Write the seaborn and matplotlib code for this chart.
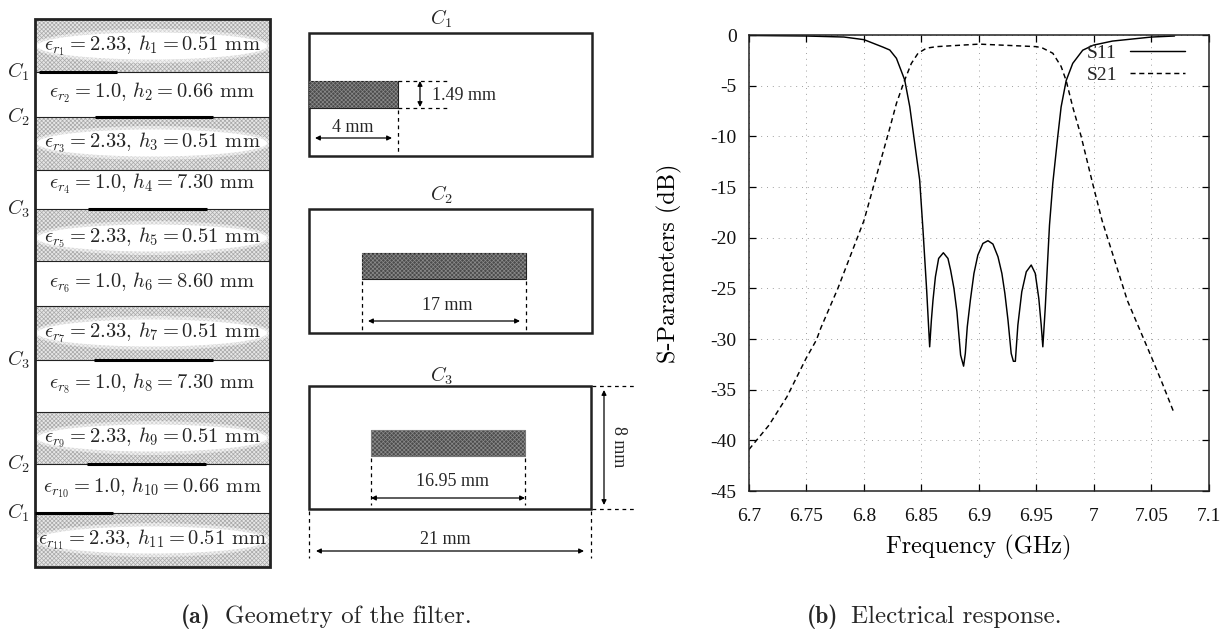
import matplotlib
matplotlib.use("Agg")
import matplotlib.pyplot as plt
import pandas as pd
import seaborn as sns
from matplotlib.patches import Ellipse, Rectangle

# Filter response
s11_freq = [6.70, 6.75, 6.7826, 6.80, 6.8166, 6.8224, 6.8282, 6.8354, 6.8398, 6.8441, 6.8484, 6.8513, 6.8545,
            6.8571, 6.8586, 6.86, 6.8621, 6.8649, 6.869, 6.873, 6.8753, 6.8782, 6.8808, 6.884, 6.8866,
            6.8881, 6.8898, 6.8925, 6.8956, 6.899, 6.9034, 6.9078, 6.9121, 6.9165, 6.9199, 6.9225, 6.9252,
            6.928, 6.9299, 6.9316, 6.9338, 6.9372, 6.9411, 6.9454, 6.9489, 6.952, 6.9541, 6.9555, 6.9576,
            6.9598, 6.9613, 6.9642, 6.9685, 6.9714, 6.9758, 6.9815, 6.9902, 6.9995, 7.016, 7.05, 7.07]
s11_db = [-0.05, -0.1, -0.2, -0.46, -1.2, -1.48, -2.3, -4.44, -7.08, -10.69, -14.3, -19.25, -25.2,
          -30.77, -28.13, -26.16, -23.86, -22.05, -21.49, -22.05, -23.2, -25.0, -27.31, -31.59, -32.68,
          -31.43, -28.8, -26.16, -23.53, -21.72, -20.57, -20.3, -20.63, -21.88, -23.53, -25.5, -28.13,
          -31.43, -32.2, -32.2, -28.63, -25.34, -23.37, -22.7, -23.52, -26.0, -28.63, -30.77, -26.95,
          -22.04, -18.76, -14.6, -10.0, -7.1, -4.5, -2.8, -1.5, -1.0, -0.6, -0.2, -0.1]
s21_freq = [6.70, 6.7174, 6.733, 6.7497, 6.7586, 6.7625, 6.7773, 6.80, 6.8224, 6.8282, 6.8354, 6.8412, 6.847,
            6.8543, 6.8629, 6.90, 6.95, 6.9555, 6.9642, 6.9714, 6.9758, 6.9815, 6.9888, 6.9987, 7.007,
            7.029, 7.05, 7.0595, 7.0696]
s21_db = [-40.9, -38.5, -35.7, -31.9, -30.1, -28.9, -25.0, -18.3, -9.2, -6.75, -4.44, -2.8, -1.8,
          -1.3, -1.15, -0.9, -1.15, -1.3, -1.8, -3.1, -4.5, -7.1, -10.0, -14.6, -18.3,
          -26.2, -31.8, -34.4, -37.3]

x_ticks = [6.7, 6.75, 6.8, 6.85, 6.9, 6.95, 7.0, 7.05, 7.1]
x_tick_labels = ["6.7", "6.75", "6.8", "6.85", "6.9", "6.95", "7", "7.05", "7.1"]
y_ticks = [0, -5, -10, -15, -20, -25, -30, -35, -40, -45]
y_tick_labels = ["0", "-5", "-10", "-15", "-20", "-25", "-30", "-35", "-40", "-45"]

# Stack of layers in the filter
layer_eps = ["2.33", "1.0", "2.33", "1.0", "2.33", "1.0", "2.33", "1.0", "2.33", "1.0", "2.33"]
layer_h = ["0.51", "0.66", "0.51", "7.30", "0.51", "8.60", "0.51", "7.30", "0.51", "0.66", "0.51"]
layer_edges = [19, 72, 117, 170, 209, 261, 306, 360, 412, 464, 513, 567]
layer_text_y = [46, 93, 143, 184, 238, 283, 333, 384, 438, 488, 540]
conductor_names = ["$C_1$", "$C_2$", "$C_3$", "$C_3$", "$C_2$", "$C_1$"]
conductor_y = [72, 117, 209, 360, 464, 513]
conductor_x0 = [39, 95, 88, 94, 87, 35]
conductor_x1 = [117, 213, 207, 213, 206, 113]

CM = "cmr10"
SERIF = "Liberation Serif"
DARK = "#4c4c4c"


def dashed(ax, xs, ys):
    ax.plot(xs, ys, color="black", lw=0.9, dashes=(3, 3))


def arrow(ax, start, end):
    ax.annotate("", xy=end, xytext=start,
                arrowprops=dict(arrowstyle="<|-|>", color="black", lw=0.9, mutation_scale=7,
                                shrinkA=0, shrinkB=0))


def label(ax, x, y, text, family=SERIF, size=13, **kw):
    ax.text(x, y, text, family=family, fontsize=size, ha="center", va="center", **kw)


def strip(ax, x, y, w, h, edge="#222222"):
    ax.add_patch(Rectangle((x, y), w, h, fc=DARK, ec=edge, lw=0.8))
    ax.add_patch(Rectangle((x, y), w, h, fc="none", ec="#8a8a8a", lw=0, hatch="xxxxxxxx"))


def draw_stack(ax):
    ax.add_patch(Rectangle((35, 19), 235, 548, fc="white", ec="none"))
    for i in range(len(layer_eps)):
        y0, y1 = layer_edges[i], layer_edges[i + 1]
        if i % 2 == 0:
            ax.add_patch(Rectangle((35, y0), 235, y1 - y0, fc="#e6e6e6", ec="#a8a8a8", lw=0, hatch="xxxxxxxx"))
            ax.add_patch(Ellipse((152, layer_text_y[i]), 238, 34, fc="white", ec="none", alpha=0.5))
            ax.add_patch(Ellipse((152, layer_text_y[i]), 230, 27, fc="white", ec="none"))
        n = i + 1
        text = rf"$\epsilon_{{r_{{{n}}}}} = {layer_eps[i]},\, h_{{{n}}} = {layer_h[i]}$ mm"
        ax.text(152.5, layer_text_y[i], text, family=CM, fontsize=14.8, ha="center", va="center")
    for y in layer_edges[1:-1]:
        ax.plot([35, 270], [y, y], color="#222222", lw=0.8)
    ax.add_patch(Rectangle((35, 19), 235, 548, fc="none", ec="#222222", lw=2))
    for name, y, x0, x1 in zip(conductor_names, conductor_y, conductor_x0, conductor_x1):
        ax.plot([x0, x1], [y, y], color="black", lw=2.2, solid_capstyle="butt")
        label(ax, 18, y, name, family=CM, size=14.5)


def draw_sections(ax):
    # C1
    label(ax, 441, 19, "$C_1$", family=CM, size=14.5)
    ax.add_patch(Rectangle((309, 33), 283, 123, fc="none", ec="#222222", lw=1.8))
    strip(ax, 309, 81, 89, 27)
    dashed(ax, [398, 447], [81, 81])
    dashed(ax, [398, 447], [108, 108])
    dashed(ax, [398, 398], [110, 155])
    arrow(ax, (420, 81), (420, 107))
    arrow(ax, (315, 138), (392, 138))
    ax.text(432, 96, "1.49 mm", family=SERIF, fontsize=13, ha="left", va="center")
    label(ax, 353, 128, "4 mm")
    # C2
    label(ax, 441, 195, "$C_2$", family=CM, size=14.5)
    ax.add_patch(Rectangle((309, 209), 283, 124, fc="none", ec="#222222", lw=1.8))
    strip(ax, 362, 253, 164, 26)
    dashed(ax, [362, 362], [281, 330])
    dashed(ax, [526, 526], [281, 330])
    arrow(ax, (368, 321), (520, 321))
    label(ax, 447, 306, "17 mm")
    # C3
    label(ax, 441, 376, "$C_3$", family=CM, size=14.5)
    ax.add_patch(Rectangle((309, 386), 282, 123, fc="none", ec="#222222", lw=1.8))
    strip(ax, 371, 430, 154, 26, edge="#777777")
    dashed(ax, [371, 371], [458, 505])
    dashed(ax, [525, 525], [458, 505])
    arrow(ax, (371, 498), (525, 498))
    label(ax, 453, 482, "16.95 mm")
    dashed(ax, [592, 636], [386, 386])
    dashed(ax, [592, 636], [509, 509])
    arrow(ax, (604, 390), (604, 505))
    label(ax, 618, 447, "8 mm", rotation=-90)
    dashed(ax, [309, 309], [511, 558])
    dashed(ax, [591, 591], [511, 558])
    arrow(ax, (316, 551), (584, 551))
    label(ax, 445, 539, "21 mm")


def draw_caption(fig, x, bold, rest):
    fig.text(x / 1231, 1 - 617 / 633, bold, family="cmb10", fontsize=17, ha="left", va="center")
    fig.text((x + 44) / 1231, 1 - 617 / 633, rest, family=CM, fontsize=18, ha="left", va="center")


def main():
    sns.set_theme(style="ticks")
    plt.rcParams["mathtext.fontset"] = "cm"
    plt.rcParams["axes.unicode_minus"] = False
    plt.rcParams["hatch.linewidth"] = 0.5

    fig = plt.figure(figsize=(12.31, 6.33), dpi=100)

    # left side is a diagram, drawn in picture pixels
    geo = fig.add_axes([0, 0, 1, 1])
    geo.set_xlim(0, 1231)
    geo.set_ylim(633, 0)
    geo.axis("off")
    draw_stack(geo)
    draw_sections(geo)

    ax = fig.add_axes([749 / 1231, 1 - 491 / 633, 460 / 1231, 456 / 633])
    ax.patch.set_alpha(0)
    df = pd.concat([
        pd.DataFrame({"Frequency": s11_freq, "dB": s11_db, "Parameter": "S11"}),
        pd.DataFrame({"Frequency": s21_freq, "dB": s21_db, "Parameter": "S21"}),
    ])
    sns.lineplot(data=df, x="Frequency", y="dB", hue="Parameter", style="Parameter",
                 palette=["black", "black"], dashes={"S11": "", "S21": (3.5, 2.5)},
                 estimator=None, sort=False, lw=1.05, ax=ax)

    ax.set_xlim(6.7, 7.1)
    ax.set_ylim(-45, 0)
    ax.set_xticks(x_ticks)
    ax.set_xticklabels(x_tick_labels, family=SERIF, fontsize=14, color="#111111")
    ax.set_yticks(y_ticks)
    ax.set_yticklabels(y_tick_labels, family=SERIF, fontsize=14, color="#111111")
    ax.tick_params(direction="in", length=5, width=0.9, top=True, right=True, color="black")
    ax.tick_params(axis="x", pad=12)
    ax.tick_params(axis="y", pad=9)
    ax.grid(True, color="#a0a0a0", lw=0.7, linestyle=(0, (1, 5)))
    for spine in ax.spines.values():
        spine.set_visible(True)
        spine.set_color("#222222")
        spine.set_linewidth(1.1)

    ax.set_xlabel("Frequency (GHz)", family=CM, fontsize=17.5, color="black", labelpad=7)
    ax.set_ylabel("S-Parameters (dB)", family=CM, fontsize=17.5, color="black", labelpad=20)

    handles, labels = ax.get_legend_handles_labels()
    ax.legend(handles, labels, loc="upper right", bbox_to_anchor=(1185 / 1231, 1 - 44 / 633),
              bbox_transform=fig.transFigure, frameon=False, markerfirst=False, handlelength=2.85,
              handletextpad=0.65, labelspacing=0.22, borderpad=0, borderaxespad=0,
              prop={"family": SERIF, "size": 14})

    draw_caption(fig, 181, "(a)", "Geometry of the filter.")
    draw_caption(fig, 807, "(b)", "Electrical response.")

    plt.savefig("out.png", dpi=100)


if __name__ == "__main__":
    main()
